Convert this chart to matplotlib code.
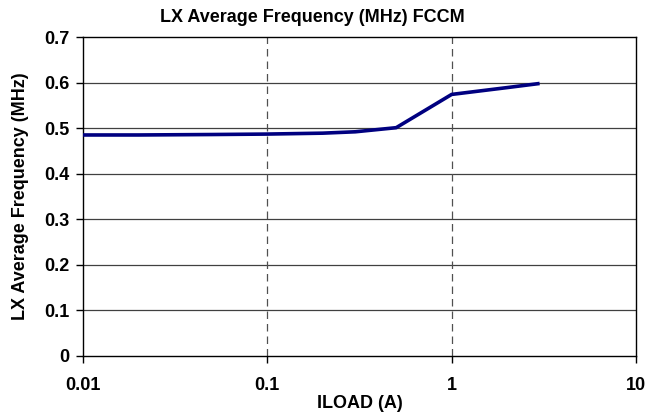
import matplotlib
matplotlib.use("Agg")
import matplotlib.pyplot as plt

# load current (A) vs LX average switching frequency (MHz), FCCM
iload = [0.01, 0.02, 0.05, 0.1, 0.2, 0.3, 0.5, 1, 2, 3]
freq = [0.485, 0.485, 0.486, 0.487, 0.489, 0.492, 0.501, 0.574, 0.589, 0.598]

x_ticks = [0.01, 0.1, 1, 10]
x_tick_labels = ['0.01', '0.1', '1', '10']
y_ticks = [0, 0.1, 0.2, 0.3, 0.4, 0.5, 0.6, 0.7]
y_tick_labels = ['0', '0.1', '0.2', '0.3', '0.4', '0.5', '0.6', '0.7']

plt.rcParams['font.family'] = ['Liberation Sans', 'DejaVu Sans']
plt.rcParams['font.weight'] = 'bold'
FS = 13

fig = plt.figure(figsize=(6.61, 4.16), dpi=100)
ax = fig.add_axes([83 / 661, 1 - 356 / 416, (636 - 83) / 661, (356 - 37) / 416])

ax.plot(iload, freq, color='#000080', lw=2.6, solid_capstyle='butt', zorder=3)

ax.set_xscale('log')
ax.set_xlim(0.01, 10)
ax.set_ylim(0, 0.7)
ax.set_xticks(x_ticks)
ax.set_xticklabels(x_tick_labels)
ax.set_yticks(y_ticks)
ax.set_yticklabels(y_tick_labels)
ax.minorticks_off()

for y in y_ticks[1:-1]:
    ax.axhline(y, color='#404040', lw=0.9, zorder=1)
for x in x_ticks[1:-1]:
    ax.axvline(x, color='#505050', lw=0.9, ls=(0, (6, 4)), zorder=1)

for s in ax.spines.values():
    s.set_linewidth(1.0)
    s.set_color('black')

ax.tick_params(axis='both', direction='out', length=5, width=1.0,
               labelsize=FS)
ax.tick_params(axis='x', pad=10)
ax.tick_params(axis='y', pad=5)
for lbl in ax.get_xticklabels() + ax.get_yticklabels():
    lbl.set_fontweight('bold')

ax.set_xlabel('ILOAD (A)', fontsize=FS, fontweight='bold')
ax.xaxis.set_label_coords(0.5, -(404 - 356) / (356 - 37), transform=ax.transAxes)
ax.xaxis.label.set_va('center')
ax.set_ylabel('LX Average Frequency (MHz)', fontsize=FS, fontweight='bold')
ax.yaxis.set_label_coords(-(83 - 21) / (636 - 83), 0.5, transform=ax.transAxes)
ax.yaxis.label.set_va('center')
fig.text(312 / 661, 1 - 18 / 416, 'LX Average Frequency (MHz) FCCM',
         ha='center', va='center', fontsize=FS, fontweight='bold')

fig.savefig('out.png', dpi=100)
